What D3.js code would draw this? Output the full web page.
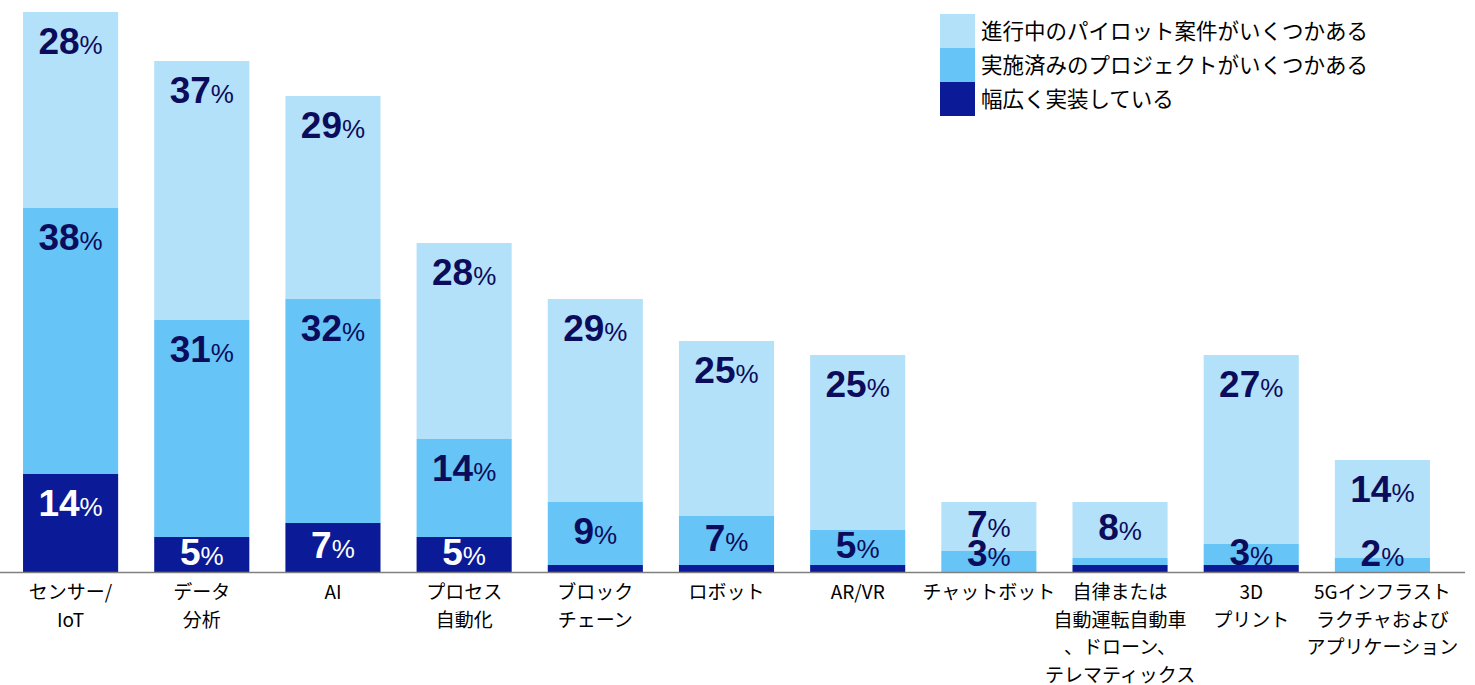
<!DOCTYPE html>
<html>
<head>
  <meta charset="utf-8">
  <title>導入状況 - 積み上げ棒グラフ</title>
  <style>
    html, body { margin: 0; padding: 0; background: #fff; }
    svg { font-family: "Liberation Sans", Arial, sans-serif; display: block; }
    .cat { font-family: "Noto Sans CJK JP", sans-serif; font-size: 19px; fill: #000; text-anchor: middle; }
    .legend-text { font-family: "Noto Sans CJK JP", sans-serif; font-size: 21.5px; fill: #000; }
    .val { font-weight: bold; text-anchor: middle; }
  </style>
</head>
<body>
  <svg id="chart" width="1475" height="685"></svg>

  <script src="https://d3js.org/d3.v7.min.js"></script>
  <script>
    // data
    const categories = [
      ["センサー/", "IoT"],
      ["データ", "分析"],
      ["AI"],
      ["プロセス", "自動化"],
      ["ブロック", "チェーン"],
      ["ロボット"],
      ["AR/VR"],
      ["チャットボット"],
      ["自律または", "自動運転自動車", "、ドローン、", "テレマティックス"],
      ["3D", "プリント"],
      ["5Gインフラスト", "ラクチャおよび", "アプリケーション"]
    ];
    const wide  = [14, 5, 7, 5, 1, 1, 1, 0, 1, 1, 0];   // 幅広く実装している
    const done  = [38, 31, 32, 14, 9, 7, 5, 3, 1, 3, 2]; // 実施済みのプロジェクトがいくつかある
    const pilot = [28, 37, 29, 28, 29, 25, 25, 7, 8, 27, 14]; // 進行中のパイロット案件がいくつかある
    const seriesNames = ["進行中のパイロット案件がいくつかある", "実施済みのプロジェクトがいくつかある", "幅広く実装している"];
    const colors = { wide: "#0b1a96", done: "#66c4f6", pilot: "#b4e1fa" };

    const svg = d3.select("#chart");
    const baseY = 572;

    const x = d3.scaleBand()
      .domain(d3.range(categories.length))
      .range([5, 1448])
      .paddingInner(0.275)
      .paddingOuter(0.1375);

    const y = d3.scaleLinear().domain([0, 80]).range([baseY, 12]);

    const rows = categories.map((c, i) => ({ i, wide: wide[i], done: done[i], pilot: pilot[i] }));
    const keys = ["wide", "done", "pilot"];
    const stacked = d3.stack().keys(keys)(rows);

    // bars
    const layer = svg.selectAll(".layer")
      .data(stacked)
      .enter().append("g")
      .attr("fill", d => colors[d.key]);

    layer.selectAll("rect")
      .data(d => d)
      .enter().append("rect")
      .attr("x", (d, i) => x(i))
      .attr("width", x.bandwidth())
      .attr("y", d => y(d[1]))
      .attr("height", d => y(d[0]) - y(d[1]));

    // value labels
    stacked.forEach(s => {
      s.forEach((d, i) => {
        const v = d[1] - d[0];
        if (v < 2) return;
        const top = y(d[1]), bot = y(d[0]);
        let cy = Math.min(top + 29, (top + bot) / 2 - 3);
        cy = Math.min(cy, baseY - 19);
        const t = svg.append("text")
          .attr("class", "val")
          .attr("x", x(i) + x.bandwidth() / 2)
          .attr("y", cy + 13)
          .attr("fill", s.key === "wide" ? "#ffffff" : "#0c0c5c");
        t.append("tspan").style("font-size", "37px").text(v);
        t.append("tspan").style("font-size", "26px").style("font-weight", "normal").text("%");
      });
    });

    // axis line
    svg.append("line")
      .attr("x1", 0).attr("x2", 1465)
      .attr("y1", baseY + 0.5).attr("y2", baseY + 0.5)
      .attr("stroke", "#808080").attr("stroke-width", 1.5);

    // category labels
    categories.forEach((lines, i) => {
      const t = svg.append("text")
        .attr("class", "cat")
        .attr("x", x(i) + x.bandwidth() / 2)
        .attr("y", 599);
      lines.forEach((ln, k) => {
        t.append("tspan")
          .attr("x", x(i) + x.bandwidth() / 2)
          .attr("dy", k === 0 ? 0 : 27.5)
          .text(ln);
      });
    });

    // legend
    const legend = svg.append("g").attr("transform", "translate(940,14)");
    const legendColors = [colors.pilot, colors.done, colors.wide];
    seriesNames.forEach((name, k) => {
      legend.append("rect")
        .attr("x", 0).attr("y", k * 34)
        .attr("width", 35).attr("height", 34)
        .attr("fill", legendColors[k]);
      legend.append("text")
        .attr("class", "legend-text")
        .attr("x", 41).attr("y", k * 34 + 25)
        .text(name);
    });
  </script>
</body>
</html>
